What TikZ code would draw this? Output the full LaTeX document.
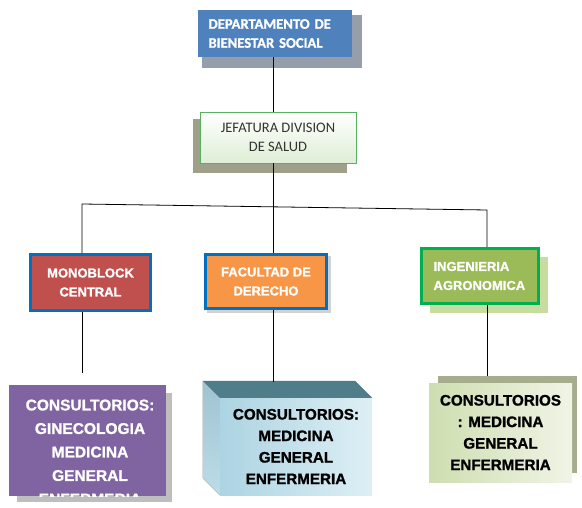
\documentclass[tikz,border=0pt]{standalone}
\usepackage{fontspec}
\setmainfont{Liberation Sans}[BoldFeatures={FakeBold=1.2}]
\newfontfamily\calibri{Carlito}[BoldFeatures={FakeBold=1.2}]
\usetikzlibrary{positioning,backgrounds}
\definecolor{azulDep}{RGB}{79,129,189}
\definecolor{sombraDep}{RGB}{150,158,172}
\definecolor{verdeJef}{RGB}{86,178,96}
\definecolor{fondoJef}{RGB}{222,238,214}
\definecolor{sombraJef}{RGB}{158,160,138}
\definecolor{rojoMono}{RGB}{192,80,77}
\definecolor{azulBorde}{RGB}{0,112,192}
\definecolor{naranjaFac}{RGB}{247,150,70}
\definecolor{verdeIng}{RGB}{155,187,89}
\definecolor{verdeBorde}{RGB}{0,176,80}
\definecolor{sombraIng}{RGB}{200,220,160}
\definecolor{moradoCons}{RGB}{128,100,162}
\definecolor{grisSombra}{RGB}{190,190,190}
\definecolor{tealCubo}{RGB}{79,125,137}
\definecolor{azulCubo}{RGB}{172,212,226}
\definecolor{claroCubo}{RGB}{222,239,245}
\definecolor{olivaSombra}{RGB}{165,173,140}
\definecolor{verdeCons}{RGB}{206,222,176}
\definecolor{claroCons}{RGB}{240,244,230}

\begin{document}
\begin{tikzpicture}[x=1pt,y=-1pt,
  unidad/.style={line width=3pt, text=white, inner sep=0pt, align=center, font=\bfseries\fontsize{13}{19}\selectfont},
  consult/.style={inner sep=0pt, align=center, font=\bfseries\fontsize{15.2}{21.5}\selectfont},
  conn/.style={line width=0.8pt}
]
\useasboundingbox (0,0) rectangle (582,508);

% niveles superiores
\node[fill=azulDep, minimum width=154pt, minimum height=47pt, inner xsep=10.5pt, text width=133pt, align=left, text=white, font=\calibri\bfseries\fontsize{14.6}{19}\selectfont] (dep) at (275,33.5) {DEPARTAMENTO DE\\BIENESTAR SOCIAL};
\node[draw=verdeJef, line width=0.8pt, top color=white, bottom color=fondoJef, minimum width=156pt, minimum height=51pt, inner sep=0pt, align=center, text=black!80, font=\calibri\fontsize{14.5}{19.5}\selectfont] (jef) at (278,137.5) {JEFATURA DIVISION\\DE SALUD};

% unidades
\node[unidad, draw=azulBorde, fill=rojoMono, minimum width=120pt, minimum height=56pt] (mono) at (90.5,282.5) {MONOBLOCK\\CENTRAL};
\node[unidad, draw=azulBorde, fill=naranjaFac, minimum width=121pt, minimum height=54pt] (fac) at (266,281.5) {FACULTAD DE\\DERECHO};
\node[unidad, draw=verdeBorde, fill=verdeIng, minimum width=117pt, minimum height=55pt, inner xsep=12pt, text width=93pt, align=left] (ing) at (480,276) {INGENIERIA\\AGRONOMICA};

% consultorios
\node[fill=moradoCons, minimum width=157pt, minimum height=111pt, inner sep=0pt] (cons1) at (87.5,440.5) {};
\begin{scope}
  \clip (cons1.north west) rectangle (cons1.south east);
  \node[consult, text=white, font=\bfseries\fontsize{15.5}{23.5}\selectfont] (cons1txt) at (90,452) {CONSULTORIOS:\\GINECOLOGIA\\MEDICINA\\GENERAL\\ENFERMERIA};
\end{scope}
\node[consult, left color=azulCubo, right color=claroCubo, minimum width=152pt, minimum height=97pt] (cons2) at (296,446.5) {CONSULTORIOS:\\MEDICINA\\GENERAL\\ENFERMERIA};
\fill[top color=azulCubo!92!black, bottom color=azulCubo!80!white] (cons2.north west) -- ++(-17,-17) -- ([shift={(-17,-17)}]cons2.south west) -- (cons2.south west) -- cycle;
\fill[tealCubo] (cons2.north west) -- ++(-17,-17) -- ([shift={(-17,-17)}]cons2.north east) -- (cons2.north east) -- cycle;
\node[consult, left color=verdeCons, right color=claroCons, minimum width=143pt, minimum height=99pt] (cons3) at (500.5,432.5) {CONSULTORIOS\\: MEDICINA\\GENERAL\\ENFERMERIA};

% sombras
\begin{scope}[on background layer]
  \fill[sombraDep] ([shift={(4,5)}]dep.north west) rectangle ([shift={(10,11)}]dep.south east);
  \fill[sombraJef] ([shift={(-7,7)}]jef.north west) rectangle ([shift={(-9,10)}]jef.south east);
  \fill[grisSombra!70] ([shift={(3,3)}]fac.north west) rectangle ([shift={(3,3)}]fac.south east);
  \fill[sombraIng] ([shift={(10,10)}]ing.north west) rectangle ([shift={(8,8)}]ing.south east);
  \fill[grisSombra] ([shift={(8,8)}]cons1.north west) rectangle ([shift={(6,6)}]cons1.south east);
  \fill[olivaSombra] ([shift={(9,-7)}]cons3.north west) rectangle ([shift={(5,-9)}]cons3.south east);
\end{scope}

% conectores
\coordinate (bus) at (273,206.8);
\coordinate (busL) at (82,204);
\coordinate (busR) at (487,210);
\coordinate (finL) at (82,373);
\coordinate (finC) at (273,382);
\coordinate (finR) at (487,376);
\draw[conn] (bus |- dep.south) -- (bus |- jef.north);
\draw[conn] (bus |- jef.south) -- (bus);
\draw[conn] (busL |- mono.north) -- (busL) -- (busR) -- (busR |- ing.north);
\draw[conn] (bus) -- (bus |- fac.north);
\draw[conn] (busL |- mono.south) -- (finL);
\draw[conn] (bus |- fac.south) -- (finC);
\draw[conn] (busR |- ing.south) -- (finR);
\end{tikzpicture}
\end{document}
